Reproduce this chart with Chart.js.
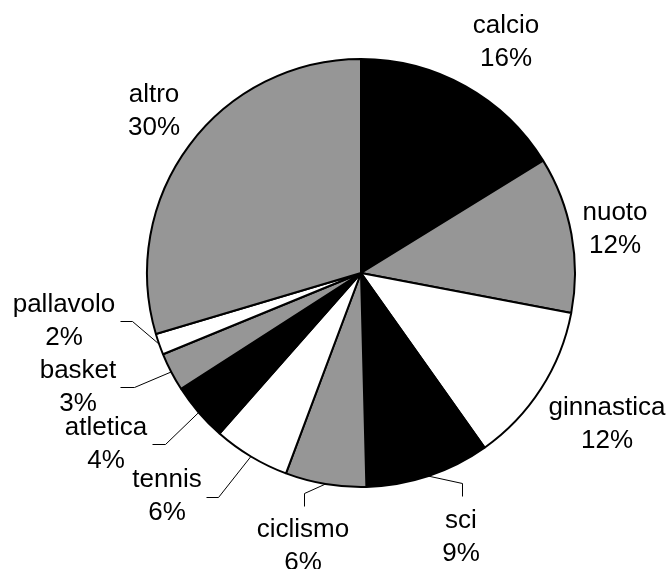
<!DOCTYPE html>
<html>
<head>
<meta charset="utf-8">
<script src="https://cdn.jsdelivr.net/npm/chart.js@4"></script>
<style>
html, body { margin: 0; padding: 0; background: #fff; }
</style>
</head>
<body>
<canvas id="chart1" width="668" height="569"></canvas>
<script>
// data
const sports = ["calcio", "nuoto", "ginnastica", "sci", "ciclismo", "tennis", "atletica", "basket", "pallavolo", "altro"];
const shares = [16.2, 11.8, 12.2, 9.4, 6.1, 5.8, 4.4, 2.9, 1.6, 29.6];
const sliceColors = ["#000000", "#969696", "#ffffff", "#000000", "#969696", "#ffffff", "#000000", "#969696", "#ffffff", "#969696"];

// where each label sits, relative to the pie centre (text centre x, first baseline y)
const labelSpots = [[145, -240], [254, -53], [246, 142], [100, 255], [-58, 264], [-194, 214], [-255, 162], [-283, 105], [-297, 39], [-207, -171]];
// leader lines: elbow and end, relative to the centre; null = no line
const leaders = [null, null, null,
  [[101, 210], [101, 223]],
  [[-57, 220], [-57, 233]],
  [[-143, 224], [-155, 224]],
  [[-196, 171], [-209, 171]],
  [[-227, 114], [-241, 114]],
  [[-229, 48], [-241, 48]],
  null];

const total = shares.reduce((a, b) => a + b, 0);

const pieLabels = {
  id: "pieLabels",
  afterDatasetsDraw(chart) {
    const ctx = chart.ctx;
    const meta = chart.getDatasetMeta(0);
    ctx.save();
    meta.data.forEach((arc, i) => {
      const p = arc.getProps(["x", "y", "startAngle", "endAngle", "outerRadius"], true);
      const cx = p.x, cy = p.y;
      if (leaders[i]) {
        const mid = (p.startAngle + p.endAngle) / 2;
        const sx = cx + Math.cos(mid) * p.outerRadius;
        const sy = cy + Math.sin(mid) * p.outerRadius;
        ctx.beginPath();
        ctx.strokeStyle = "#000";
        ctx.lineWidth = 1;
        ctx.moveTo(sx, sy);
        ctx.lineTo(Math.round(cx + leaders[i][0][0]) + 0.5, Math.round(cy + leaders[i][0][1]) + 0.5);
        ctx.lineTo(Math.round(cx + leaders[i][1][0]) + 0.5, Math.round(cy + leaders[i][1][1]) + 0.5);
        ctx.stroke();
      }
      const tx = cx + labelSpots[i][0];
      const ty = cy + labelSpots[i][1];
      ctx.fillStyle = "#000";
      ctx.font = '26px "Liberation Sans", Arial, sans-serif';
      ctx.textAlign = "center";
      ctx.textBaseline = "alphabetic";
      ctx.fillText(sports[i], tx, ty);
      ctx.fillText(Math.round(shares[i] / total * 100) + "%", tx, ty + 33);
    });
    ctx.restore();
  }
};

const ctx1 = document.getElementById("chart1").getContext("2d");
const pieChart = new Chart(ctx1, {
  type: "pie",
  data: {
    labels: sports,
    datasets: [{
      data: shares,
      backgroundColor: sliceColors,
      borderColor: "#000000",
      borderWidth: 2,
      hoverOffset: 0
    }]
  },
  options: {
    responsive: false,
    animation: false,
    devicePixelRatio: 1,
    events: [],
    layout: { padding: { left: 146, right: 92, top: 58, bottom: 81 } },
    plugins: {
      legend: { display: false },
      tooltip: { enabled: false }
    }
  },
  plugins: [pieLabels]
});
</script>
</body>
</html>
